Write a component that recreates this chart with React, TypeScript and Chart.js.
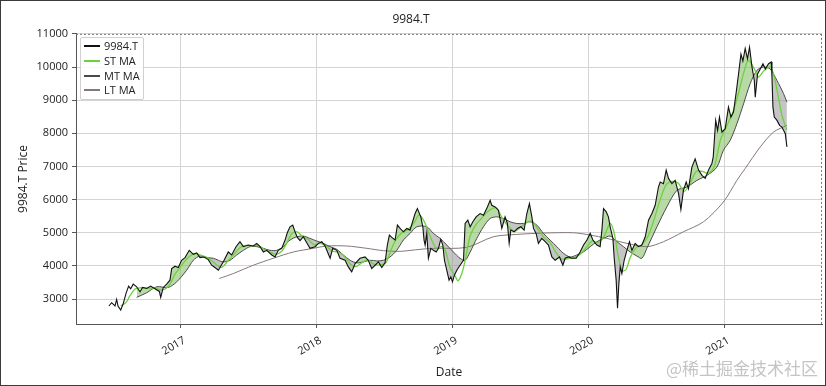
import React, { useEffect, useRef } from 'react';
import { Chart, registerables } from 'chart.js';

Chart.register(...registerables);

const TITLE = '9984.T';
const X_TITLE = 'Date';
const Y_TITLE = '9984.T Price';
const WATERMARK = '@稀土掘金技术社区';
const SERIES_LABELS = ['9984.T', 'ST MA', 'MT MA', 'LT MA'];
const SERIES_COLORS = ['#111111', '#6fd03f', '#4a4a4a', '#857878'];
const YEAR_TICKS = [2017, 2018, 2019, 2020, 2021];
const PRICE_TICKS = [3000, 4000, 5000, 6000, 7000, 8000, 9000, 10000, 11000];
const X_MIN = 2016.23;
const X_MAX = 2021.717;
const Y_MIN = 2247;
const Y_MAX = 11000;

// dates as decimal years
const priceDates = [
  2016.472, 2016.492, 2016.517, 2016.529, 2016.539, 2016.559, 2016.578, 2016.598, 2016.617, 2016.632,
  2016.651, 2016.676, 2016.701, 2016.72, 2016.75, 2016.779, 2016.811, 2016.843, 2016.853, 2016.872,
  2016.897, 2016.921, 2016.934, 2016.958, 2016.982, 2017.007, 2017.032, 2017.063, 2017.093, 2017.118,
  2017.142, 2017.171, 2017.203, 2017.228, 2017.252, 2017.277, 2017.289, 2017.313, 2017.35, 2017.375,
  2017.407, 2017.436, 2017.461, 2017.497, 2017.534, 2017.559, 2017.584, 2017.608, 2017.633, 2017.67,
  2017.694, 2017.718, 2017.743, 2017.768, 2017.784, 2017.804, 2017.824, 2017.841, 2017.858, 2017.878,
  2017.902, 2017.927, 2017.951, 2017.988, 2018.013, 2018.038, 2018.062, 2018.099, 2018.118, 2018.148,
  2018.172, 2018.209, 2018.233, 2018.258, 2018.283, 2018.319, 2018.356, 2018.38, 2018.405, 2018.43,
  2018.454, 2018.479, 2018.503, 2018.52, 2018.535, 2018.553, 2018.577, 2018.594, 2018.614, 2018.638,
  2018.663, 2018.687, 2018.724, 2018.741, 2018.766, 2018.781, 2018.79, 2018.798, 2018.81, 2018.822,
  2018.84, 2018.859, 2018.879, 2018.896, 2018.913, 2018.928, 2018.94, 2018.957, 2018.974, 2018.987,
  2018.999, 2019.013, 2019.031, 2019.055, 2019.08, 2019.092, 2019.112, 2019.129, 2019.149, 2019.173,
  2019.202, 2019.227, 2019.256, 2019.276, 2019.288, 2019.313, 2019.337, 2019.362, 2019.386, 2019.403,
  2019.416, 2019.428, 2019.453, 2019.477, 2019.502, 2019.526, 2019.546, 2019.565, 2019.583, 2019.595,
  2019.614, 2019.631, 2019.656, 2019.681, 2019.705, 2019.73, 2019.754, 2019.786, 2019.811, 2019.828,
  2019.852, 2019.877, 2019.909, 2019.938, 2019.963, 2019.988, 2020.012, 2020.032, 2020.061, 2020.085,
  2020.098, 2020.11, 2020.13, 2020.146, 2020.159, 2020.179, 2020.188, 2020.203, 2020.213, 2020.223,
  2020.233, 2020.245, 2020.262, 2020.282, 2020.301, 2020.319, 2020.343, 2020.367, 2020.392, 2020.417,
  2020.441, 2020.466, 2020.49, 2020.514, 2020.527, 2020.551, 2020.571, 2020.588, 2020.613, 2020.637,
  2020.662, 2020.679, 2020.698, 2020.718, 2020.735, 2020.76, 2020.784, 2020.809, 2020.834, 2020.858,
  2020.882, 2020.907, 2020.917, 2020.935, 2020.949, 2020.963, 2020.981, 2021.005, 2021.029, 2021.047,
  2021.066, 2021.086, 2021.103, 2021.121, 2021.135, 2021.152, 2021.169, 2021.184, 2021.202, 2021.219,
  2021.226, 2021.243, 2021.263, 2021.283, 2021.3, 2021.324, 2021.344, 2021.349, 2021.356, 2021.366,
  2021.386, 2021.405, 2021.422, 2021.434, 2021.447, 2021.459,
];
const priceValues = [
  2790, 2890, 2790, 2990, 2790, 2670, 2870, 3170, 3390, 3310,
  3450, 3370, 3220, 3350, 3320, 3390, 3310, 3230, 3050, 3350,
  3450, 3570, 3920, 3990, 3950, 4170, 4250, 4470, 4350, 4390,
  4250, 4270, 4190, 4020, 3950, 3870, 3950, 4120, 4420, 4330,
  4580, 4730, 4580, 4630, 4600, 4680, 4580, 4420, 4470, 4330,
  4270, 4470, 4530, 4780, 5000, 5180, 5230, 5030, 4860, 4760,
  4880, 4700, 4530, 4580, 4680, 4730, 4600, 4230, 4530, 4470,
  4230, 4170, 3970, 3820, 4070, 4230, 4270, 4170, 3920, 4020,
  4120, 3950, 4090, 4630, 4930, 4860, 4780, 5230, 5130, 5030,
  5130, 5080, 5580, 5730, 5480, 5180, 4780, 4630, 4980, 4230,
  4530, 4470, 4420, 4530, 4800, 4630, 4170, 3870, 3570, 3670,
  3520, 3720, 3870, 4020, 4170, 5280, 5380, 5180, 5330, 5480,
  5580, 5530, 5780, 5980, 5830, 5780, 5680, 5130, 5480, 5280,
  4680, 5080, 5030, 5130, 5180, 5080, 5580, 5880, 5480, 5130,
  4980, 4680, 4830, 4730, 4630, 4270, 4170, 4270, 4020, 4230,
  4270, 4230, 4230, 4420, 4630, 4780, 4980, 4780, 4630, 4580,
  5080, 5730, 5630, 5480, 5180, 4830, 4270, 3570, 2720, 3470,
  3970, 3770, 4170, 4470, 4730, 4470, 4680, 4580, 4630, 4880,
  5380, 5580, 5830, 6380, 6530, 6480, 6890, 6640, 6480, 6580,
  6180, 5700, 6280, 6530, 6330, 6980, 7230, 6890, 6730, 6640,
  6890, 7090, 7290, 8390, 8090, 8490, 8040, 8140, 8790, 8490,
  8640, 9240, 9790, 10390, 10180, 10560, 10250, 10600, 10000, 9600,
  9090, 9790, 9940, 10100, 9940, 10100, 10150, 9700, 8790, 8490,
  8390, 8240, 8190, 8090, 7990, 7590,
];

const stDates = [
  2016.559, 2016.598, 2016.627, 2016.664, 2016.701, 2016.759, 2016.811, 2016.848, 2016.884, 2016.921,
  2016.958, 2016.995, 2017.032, 2017.068, 2017.105, 2017.142, 2017.186, 2017.23, 2017.274, 2017.304,
  2017.348, 2017.392, 2017.436, 2017.48, 2017.525, 2017.569, 2017.613, 2017.657, 2017.701, 2017.745,
  2017.782, 2017.819, 2017.856, 2017.893, 2017.937, 2017.981, 2018.025, 2018.069, 2018.113, 2018.157,
  2018.201, 2018.246, 2018.29, 2018.334, 2018.378, 2018.422, 2018.466, 2018.51, 2018.539, 2018.584,
  2018.628, 2018.672, 2018.716, 2018.753, 2018.79, 2018.834, 2018.878, 2018.922, 2018.952, 2018.981,
  2019.018, 2019.04, 2019.07, 2019.099, 2019.129, 2019.173, 2019.217, 2019.261, 2019.32, 2019.364,
  2019.408, 2019.453, 2019.497, 2019.541, 2019.585, 2019.629, 2019.673, 2019.717, 2019.761, 2019.805,
  2019.849, 2019.893, 2019.938, 2019.982, 2020.026, 2020.071, 2020.115, 2020.159, 2020.188, 2020.218,
  2020.247, 2020.277, 2020.306, 2020.35, 2020.394, 2020.438, 2020.482, 2020.527, 2020.571, 2020.615,
  2020.659, 2020.703, 2020.748, 2020.792, 2020.836, 2020.88, 2020.925, 2020.97, 2021.014, 2021.058,
  2021.102, 2021.146, 2021.175, 2021.219, 2021.249, 2021.293, 2021.337, 2021.366, 2021.396, 2021.425,
  2021.459,
];
const stValues = [
  2790, 2900, 3100, 3300, 3340, 3330, 3330, 3280, 3300, 3450,
  3750, 3950, 4150, 4300, 4380, 4330, 4270, 4150, 4000, 3960,
  4150, 4350, 4550, 4620, 4600, 4620, 4500, 4420, 4350, 4450,
  4700, 4980, 5030, 4900, 4800, 4640, 4680, 4600, 4450, 4420,
  4300, 4060, 3980, 4100, 4180, 4050, 4030, 4100, 4400, 4800,
  5000, 5100, 5300, 5530, 5350, 4900, 4550, 4580, 4400, 3950,
  3700, 3550, 3800, 4300, 4900, 5250, 5450, 5650, 5750, 5450,
  5200, 5050, 5150, 5300, 5350, 5100, 4850, 4700, 4400, 4200,
  4220, 4250, 4350, 4550, 4750, 4700, 4900, 5280, 5000, 4300,
  3850, 3900, 4250, 4550, 4650, 4900, 5400, 6000, 6450, 6550,
  6500, 6250, 6500, 6850, 6850, 6800, 7000, 7800, 8200, 8600,
  9200, 9900, 10200, 9950, 9700, 9900, 10000, 9700, 9100, 8500,
  8100,
];

const mtDates = [
  2016.676, 2016.75, 2016.823, 2016.909, 2016.971, 2017.044, 2017.093, 2017.142, 2017.191, 2017.24,
  2017.277, 2017.313, 2017.363, 2017.412, 2017.461, 2017.51, 2017.559, 2017.608, 2017.657, 2017.706,
  2017.755, 2017.804, 2017.854, 2017.902, 2017.951, 2018.001, 2018.049, 2018.099, 2018.148, 2018.196,
  2018.246, 2018.295, 2018.344, 2018.393, 2018.442, 2018.491, 2018.54, 2018.589, 2018.638, 2018.687,
  2018.737, 2018.81, 2018.859, 2018.908, 2018.957, 2019.006, 2019.055, 2019.092, 2019.129, 2019.178,
  2019.227, 2019.276, 2019.325, 2019.374, 2019.423, 2019.472, 2019.521, 2019.57, 2019.62, 2019.668,
  2019.717, 2019.767, 2019.815, 2019.865, 2019.914, 2019.962, 2020.012, 2020.061, 2020.11, 2020.159,
  2020.208, 2020.257, 2020.306, 2020.355, 2020.392, 2020.429, 2020.503, 2020.576, 2020.65, 2020.723,
  2020.797, 2020.87, 2020.944, 2020.992, 2021.042, 2021.091, 2021.14, 2021.189, 2021.238, 2021.287,
  2021.336, 2021.385, 2021.434, 2021.459,
];
const mtValues = [
  3050, 3190, 3370, 3350, 3520, 3870, 4170, 4300, 4250, 4230,
  4170, 4120, 4170, 4330, 4470, 4580, 4580, 4530, 4470, 4470,
  4580, 4780, 4880, 4900, 4830, 4750, 4680, 4580, 4500, 4330,
  4170, 4090, 4120, 4170, 4150, 4170, 4270, 4470, 4780, 4980,
  5180, 5180, 4980, 4830, 4630, 4420, 4230, 4170, 4420, 4830,
  5180, 5430, 5480, 5430, 5330, 5280, 5280, 5330, 5230, 4980,
  4780, 4580, 4380, 4270, 4330, 4420, 4580, 4730, 4830, 4900,
  4730, 4580, 4420, 4300, 4230, 4530, 5180, 5780, 6280, 6380,
  6580, 6730, 6980, 7490, 7790, 8290, 8890, 9500, 9900, 10000,
  9940, 9600, 9200, 8940,
];

const ltDates = [
  2017.284, 2017.387, 2017.534, 2017.681, 2017.829, 2017.976, 2018.074, 2018.222, 2018.369, 2018.491,
  2018.614, 2018.761, 2018.859, 2019.104, 2019.3, 2019.472, 2019.668, 2019.889, 2020.012, 2020.135,
  2020.282, 2020.429, 2020.551, 2020.698, 2020.845, 2020.992, 2021.091, 2021.152, 2021.263, 2021.361,
  2021.459,
];
const ltValues = [
  3620, 3770, 4020, 4230, 4420, 4530, 4600, 4600, 4530, 4460,
  4440, 4500, 4530, 4560, 4880, 4950, 4990, 5000, 4930, 4830,
  4680, 4580, 4730, 5030, 5330, 5930, 6580, 6940, 7590, 8040,
  8240,
];

const FONT = "'Open Sans', 'DejaVu Sans', sans-serif";

const toXY = (xs: number[], ys: number[]) => xs.map((x, i) => ({ x, y: ys[i] }));

const frameEdges = {
  id: 'frameEdges',
  afterDatasetsDraw(chart: any) {
    const { ctx, chartArea } = chart;
    ctx.save();
    ctx.strokeStyle = '#777';
    ctx.lineWidth = 1;
    ctx.setLineDash([2, 2]);
    ctx.beginPath();
    ctx.moveTo(chartArea.left, chartArea.top + 0.5);
    ctx.lineTo(chartArea.right, chartArea.top + 0.5);
    ctx.moveTo(chartArea.right - 0.5, chartArea.top);
    ctx.lineTo(chartArea.right - 0.5, chartArea.bottom);
    ctx.stroke();
    ctx.restore();
  },
};

export default function App() {
  const ref = useRef<HTMLCanvasElement>(null);

  useEffect(() => {
    if (!ref.current) return;
    const tickFont = { family: FONT, size: 11 };
    const chart = new Chart(ref.current, {
      type: 'line',
      data: {
        datasets: [
          {
            label: SERIES_LABELS[0],
            data: toXY(priceDates, priceValues),
            borderColor: SERIES_COLORS[0],
            borderWidth: 1.1,
            pointRadius: 0,
            tension: 0,
            fill: { target: 2, above: 'rgba(128,185,95,0.55)', below: 'rgba(140,140,140,0.5)' },
          },
          {
            label: SERIES_LABELS[1],
            data: toXY(stDates, stValues),
            borderColor: SERIES_COLORS[1],
            borderWidth: 1.3,
            pointRadius: 0,
            tension: 0.3,
            fill: false,
          },
          {
            label: SERIES_LABELS[2],
            data: toXY(mtDates, mtValues),
            borderColor: SERIES_COLORS[2],
            borderWidth: 1,
            pointRadius: 0,
            tension: 0.3,
            fill: false,
          },
          {
            label: SERIES_LABELS[3],
            data: toXY(ltDates, ltValues),
            borderColor: SERIES_COLORS[3],
            borderWidth: 1,
            pointRadius: 0,
            tension: 0.3,
            fill: false,
          },
        ],
      } as any,
      options: {
        animation: false,
        responsive: false,
        maintainAspectRatio: false,
        events: [],
        layout: { padding: { left: 0, right: 4, top: 0, bottom: 0 } },
        plugins: {
          legend: { display: false },
          tooltip: { enabled: false },
          filler: { drawTime: 'beforeDatasetsDraw' },
          title: {
            display: true,
            text: TITLE,
            color: '#222',
            font: { family: FONT, size: 12, weight: 'normal' },
            padding: { top: 12, bottom: 7.5 },
          },
        },
        scales: {
          x: {
            type: 'linear',
            min: X_MIN,
            max: X_MAX,
            afterBuildTicks: (s: any) => {
              s.ticks = YEAR_TICKS.map((v) => ({ value: v }));
            },
            afterFit: (s: any) => {
              s.height = 62;
            },
            ticks: {
              minRotation: 30,
              maxRotation: 30,
              color: '#222',
              font: tickFont,
              padding: 6,
              labelOffset: 4,
              callback: (v: any) => String(v),
            },
            grid: { color: '#d4d4d4', tickColor: '#555', tickLength: 4 },
            border: { color: '#555' },
            title: {
              display: true,
              text: X_TITLE,
              color: '#222',
              font: { family: FONT, size: 12 },
              padding: { top: 0, bottom: 6 },
            },
          },
          y: {
            type: 'linear',
            min: Y_MIN,
            max: Y_MAX,
            afterBuildTicks: (s: any) => {
              s.ticks = PRICE_TICKS.map((v) => ({ value: v }));
            },
            afterFit: (s: any) => {
              s.width = 76;
            },
            ticks: { color: '#222', font: tickFont, padding: 4, callback: (v: any) => String(v) },
            grid: { color: '#d4d4d4', tickColor: '#555', tickLength: 4 },
            border: { color: '#555' },
            title: {
              display: true,
              text: Y_TITLE,
              color: '#222',
              font: { family: FONT, size: 12 },
              padding: { top: 16, bottom: 0 },
            },
          },
        },
      } as any,
      plugins: [frameEdges],
    });
    return () => chart.destroy();
  }, []);

  return (
    <div style={{ position: 'fixed', left: 0, top: 0, width: 826, height: 386, background: '#fff', overflow: 'hidden' }}>
      <canvas ref={ref} width={826} height={386} style={{ position: 'absolute', left: 0, top: 0 }} />
      <div
        style={{
          position: 'absolute',
          left: 80,
          top: 37,
          width: 62,
          padding: '1px 0',
          border: '1px solid #d0d0d0',
          borderRadius: 2,
          background: 'rgba(255,255,255,0.85)',
          fontFamily: FONT,
          fontSize: 11,
          color: '#222',
        }}
      >
        {SERIES_LABELS.map((label, i) => (
          <div key={label} style={{ display: 'flex', alignItems: 'center', height: 14.7 }}>
            <div style={{ width: 16, height: 2, marginLeft: 3, marginRight: 4, background: SERIES_COLORS[i] }} />
            <span style={{ lineHeight: '14px', whiteSpace: 'nowrap' }}>{label}</span>
          </div>
        ))}
      </div>
      <div
        style={{
          position: 'absolute',
          left: 666,
          top: 359,
          fontFamily: "'Noto Sans CJK SC', sans-serif",
          fontSize: 17,
          lineHeight: '17px',
          color: '#c4c4c4',
          whiteSpace: 'nowrap',
        }}
      >
        {WATERMARK}
      </div>
      <div
        style={{
          position: 'absolute',
          left: 0,
          top: 0,
          width: 826,
          height: 386,
          boxSizing: 'border-box',
          border: '1px solid #3a3a3a',
          pointerEvents: 'none',
        }}
      />
    </div>
  );
}
